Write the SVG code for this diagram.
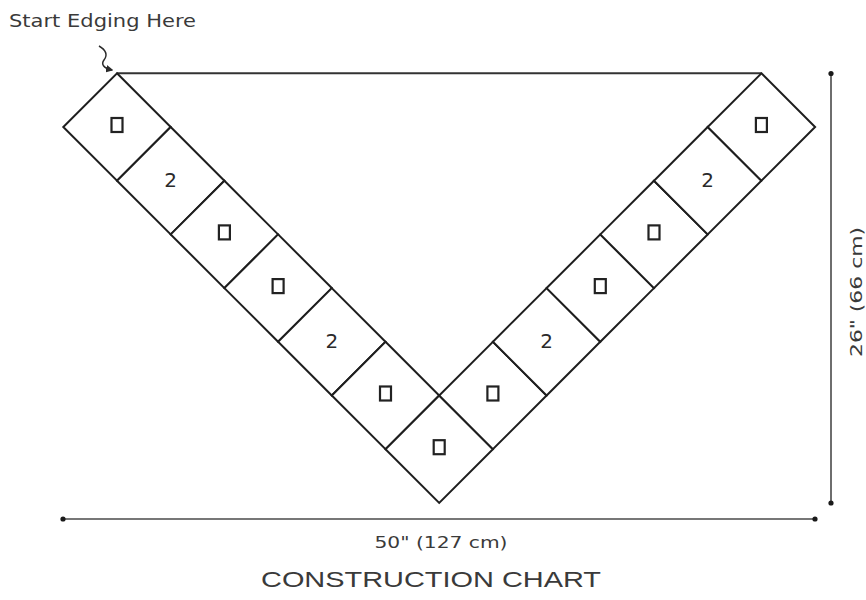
<svg xmlns="http://www.w3.org/2000/svg" xmlns:xlink="http://www.w3.org/1999/xlink" width="866" height="600" viewBox="0 0 866 600">
  <style>
    .sq { fill: #ffffff; stroke: #1e1e1e; stroke-width: 2; stroke-linejoin: miter; }
    .box { fill: none; stroke: #222222; stroke-width: 2.2; }
    .num { font-family: "DejaVu Sans", "Liberation Sans", sans-serif; font-size: 20px; fill: #2a2a2a; text-anchor: middle; }
    .lbl { font-family: "DejaVu Sans", "Liberation Sans", sans-serif; fill: #3a3a3a; }
    .dim { stroke: #4a4a4a; stroke-width: 1.6; fill: none; }
    .dot { fill: #1a1a1a; }
    .edge { stroke: #333333; stroke-width: 2; fill: none; }
  </style>
  <defs>
    <polygon id="diamond" class="sq" points="0,-53.7 53.7,0 0,53.7 -53.7,0"/>
    <rect id="smallbox" class="box" x="-5.5" y="-9" width="11" height="14"/>
    <marker id="arrowhead" viewBox="0 0 10 10" refX="8" refY="5" markerWidth="5" markerHeight="5" orient="auto" markerUnits="strokeWidth">
      <path d="M0,0 L10,5 L0,10 Z" fill="#2a2a2a"/>
    </marker>
  </defs>
  <rect width="866" height="600" fill="#ffffff"/>

  <!-- top edge -->
  <line class="edge" x1="116.5" y1="73.3" x2="761.4" y2="73.3"/>

  <!-- left arm -->
  <g id="sq-L0" transform="translate(117,127)"><use xlink:href="#diamond"/><use xlink:href="#smallbox"/></g>
  <g id="sq-L1" transform="translate(170.7,180.7)"><use xlink:href="#diamond"/><text class="num" x="0" y="6">2</text></g>
  <g id="sq-L2" transform="translate(224.4,234.4)"><use xlink:href="#diamond"/><use xlink:href="#smallbox"/></g>
  <g id="sq-L3" transform="translate(278.1,288.1)"><use xlink:href="#diamond"/><use xlink:href="#smallbox"/></g>
  <g id="sq-L4" transform="translate(331.8,341.8)"><use xlink:href="#diamond"/><text class="num" x="0" y="6">2</text></g>
  <g id="sq-L5" transform="translate(385.5,395.5)"><use xlink:href="#diamond"/><use xlink:href="#smallbox"/></g>
  <!-- bottom -->
  <g id="sq-B" transform="translate(439.2,449.2)"><use xlink:href="#diamond"/><use xlink:href="#smallbox"/></g>
  <!-- right arm -->
  <g id="sq-R1" transform="translate(492.9,395.5)"><use xlink:href="#diamond"/><use xlink:href="#smallbox"/></g>
  <g id="sq-R2" transform="translate(546.6,341.8)"><use xlink:href="#diamond"/><text class="num" x="0" y="6">2</text></g>
  <g id="sq-R3" transform="translate(600.3,288.1)"><use xlink:href="#diamond"/><use xlink:href="#smallbox"/></g>
  <g id="sq-R4" transform="translate(654,234.4)"><use xlink:href="#diamond"/><use xlink:href="#smallbox"/></g>
  <g id="sq-R5" transform="translate(707.7,180.7)"><use xlink:href="#diamond"/><text class="num" x="0" y="6">2</text></g>
  <g id="sq-R6" transform="translate(761.4,127)"><use xlink:href="#diamond"/><use xlink:href="#smallbox"/></g>

  <!-- connectors: start arrow and dimension lines -->
  <g id="connectors">
    <path d="M99,46 C106,50 108,55 104,60 C101,64 103,68 112,70" fill="none" stroke="#2a2a2a" stroke-width="1.5" marker-end="url(#arrowhead)"/>
    <line class="dim" x1="831" y1="73.5" x2="831" y2="503"/>
    <circle class="dot" cx="831" cy="73.5" r="2.6"/>
    <circle class="dot" cx="831" cy="503" r="2.6"/>
    <line class="dim" x1="63" y1="519" x2="815" y2="519"/>
    <circle class="dot" cx="63" cy="519" r="2.6"/>
    <circle class="dot" cx="815" cy="519" r="2.6"/>
  </g>

  <g id="labels">
    <text class="lbl" x="9" y="27" font-size="17" textLength="187" lengthAdjust="spacingAndGlyphs" fill="#4a4a4a">Start Edging Here</text>
    <text class="lbl" x="441" y="548" font-size="16" text-anchor="middle" textLength="133" lengthAdjust="spacingAndGlyphs">50" (127 cm)</text>
    <text class="lbl" transform="translate(862,292) rotate(-90)" x="0" y="0" font-size="16" text-anchor="middle" textLength="130" lengthAdjust="spacingAndGlyphs">26" (66 cm)</text>
    <text class="lbl" x="431" y="587" font-size="22" text-anchor="middle" textLength="340" lengthAdjust="spacingAndGlyphs" fill="#444444" style="font-family: 'Liberation Sans', 'DejaVu Sans', sans-serif;">CONSTRUCTION CHART</text>
  </g>
</svg>
